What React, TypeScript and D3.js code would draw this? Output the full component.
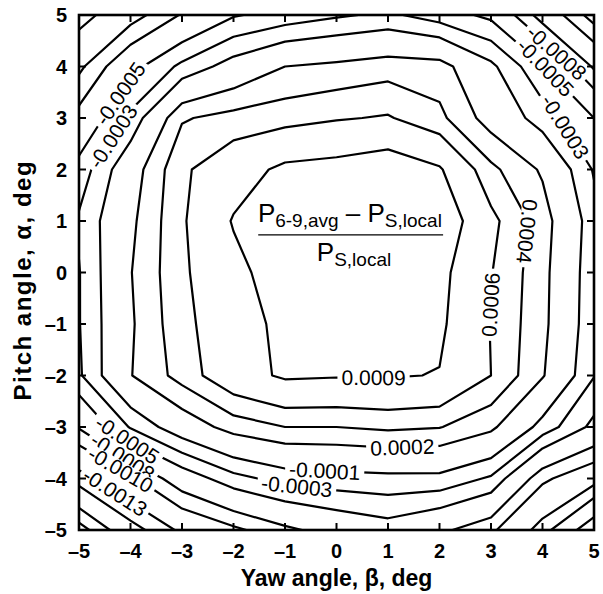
import { useEffect, useRef } from "react";
import * as d3 from "d3";

const yawTicks = [-5, -4, -3, -2, -1, 0, 1, 2, 3, 4, 5];
const pitchTicks = [-5, -4, -3, -2, -1, 0, 1, 2, 3, 4, 5];

// measurement grid: columns are yaw -5..5, rows are pitch 5..-5 (top row first)
const gridYaw = [-5, -4, -3, -2, -1, 0, 1, 2, 3, 4, 5];
const gridPitch = [5, 4, 3, 2, 1, 0, -1, -2, -3, -4, -5];
const pressureGrid = [
  [-0.0014, -0.0011, -0.00078, -0.00052, -0.00042, -0.00033, -0.00026, -0.0004, -0.00055, -0.0011, -0.0016],
  [-0.00105, -0.00058, -0.00025, 0.0, 0.0002, 0.00025, 0.00031, 0.00029, -0.00005, -0.00048, -0.00103],
  [-0.00072, -0.00025, 0.00038, 0.00047, 0.00052, 0.00058, 0.00062, 0.00045, 0.0001, -0.0002, -0.0005],
  [-0.00042, 0.00008, 0.00056, 0.00077, 0.00096, 0.001, 0.00108, 0.00093, 0.00045, 0.00017, -0.00032],
  [-0.00027, 0.00015, 0.00057, 0.00092, 0.00105, 0.0011, 0.0011, 0.0011, 0.00066, 0.0003, -0.00022],
  [-0.00031, 0.00019, 0.00056, 0.00082, 0.00105, 0.00112, 0.00112, 0.00098, 0.00061, 0.00027, -0.00024],
  [-0.00031, 0.00017, 0.00054, 0.00076, 0.00098, 0.0011, 0.0011, 0.00095, 0.00059, 0.00026, -0.00025],
  [-0.00033, 0.00019, 0.00048, 0.00078, 0.00094, 0.00092, 0.00092, 0.00089, 0.0006, 0.00022, -0.00029],
  [-0.00078, -0.00028, 0.00005, 0.00029, 0.0004, 0.0004, 0.00044, 0.00041, 0.00025, -0.00018, -0.00056],
  [-0.0014, -0.00105, -0.00065, -0.00037, -0.00022, -0.00018, -0.00016, -0.00016, -0.00033, -0.00095, -0.0012],
  [-0.0021, -0.0016, -0.00125, -0.00105, -0.00085, -0.0007, -0.0006, -0.00075, -0.00095, -0.0014, -0.002],
];

const contourLevels = [
  -0.0023, -0.002, -0.0018, -0.0015, -0.0013, -0.001, -0.0008, -0.0005, -0.0003, -0.0001,
  0.0002, 0.0004, 0.0006, 0.0009,
];

// labelled levels, with a rough spot (yaw, pitch) and text direction hint
const contourLabels = [
  { level: -0.0005, yaw: -4.21, pitch: 3.48, angle: -55 },
  { level: -0.0003, yaw: -4.23, pitch: 2.57, angle: -55 },
  { level: -0.0008, yaw: 4.24, pitch: 4.23, angle: 41 },
  { level: -0.0005, yaw: 4.05, pitch: 3.97, angle: 45 },
  { level: -0.0003, yaw: 4.44, pitch: 2.83, angle: 58 },
  { level: 0.0004, yaw: 3.79, pitch: 0.79, angle: 72 },
  { level: 0.0006, yaw: 2.91, pitch: -0.62, angle: -90 },
  { level: 0.0009, yaw: 0.72, pitch: -2.05, angle: 0 },
  { level: 0.0002, yaw: 1.28, pitch: -3.47, angle: 0 },
  { level: -0.0001, yaw: -0.23, pitch: -3.87, angle: 0 },
  { level: -0.0003, yaw: -0.78, pitch: -4.24, angle: 0 },
  { level: -0.0005, yaw: -4.06, pitch: -3.24, angle: 37 },
  { level: -0.0008, yaw: -4.17, pitch: -3.61, angle: 37 },
  { level: -0.001, yaw: -4.27, pitch: -3.96, angle: 37 },
  { level: -0.0013, yaw: -4.35, pitch: -4.34, angle: 37 },
];

const fmtLevel = (v: number) => (v < 0 ? "-" : "") + Math.abs(v).toFixed(4);
const fmtTick = (v: number) => (v < 0 ? "\u2013" + Math.abs(v) : String(v));

export default function App() {
  const ref = useRef<SVGSVGElement>(null);

  useEffect(() => {
    const width = 603, height = 594;
    const left = 79, right = 594, top = 15, bottom = 530;
    const font = "'Liberation Sans', Arial, Helvetica, sans-serif";

    const x = d3.scaleLinear().domain([-5, 5]).range([left, right]);
    const y = d3.scaleLinear().domain([-5, 5]).range([bottom, top]);

    const svg = d3.select(ref.current);
    svg.selectAll("*").remove();
    svg.attr("width", width).attr("height", height);

    svg.append("rect").attr("width", width).attr("height", height).attr("fill", "white");

    svg.append("defs").append("clipPath").attr("id", "plot-clip")
      .append("rect")
      .attr("x", left).attr("y", top)
      .attr("width", right - left).attr("height", bottom - top);

    // contours from the grid (d3 puts sample i at i + 0.5)
    const nx = gridYaw.length, ny = gridPitch.length;
    const values = pressureGrid.flat();
    const contours = d3.contours().size([nx, ny]).thresholds(contourLevels)(values);

    const toPx = (c: number, r: number): [number, number] => [
      x(gridYaw[0] + (c - 0.5)),
      y(gridPitch[0] - (r - 0.5)),
    ];
    const projection = d3.geoTransform({
      point(px: number, py: number) {
        const p = toPx(px, py);
        this.stream.point(p[0], p[1]);
      },
    });
    const path = d3.geoPath(projection);

    svg.append("g")
      .attr("clip-path", "url(#plot-clip)")
      .selectAll("path")
      .data(contours)
      .join("path")
      .attr("d", d => path(d as any))
      .attr("fill", "none")
      .attr("stroke", "black")
      .attr("stroke-width", 2.2)
      .attr("stroke-linejoin", "round");

    // labels: snap to the nearest point of the level's line
    const labelLayer = svg.append("g");
    contourLabels.forEach(lab => {
      const c = contours.find(k => Math.abs(k.value - lab.level) < 1e-9);
      if (!c) return;
      const tx = x(lab.yaw), ty = y(lab.pitch);
      let best = { d: Infinity, px: tx, py: ty, ang: lab.angle };
      c.coordinates.forEach(poly => poly.forEach(ring => {
        for (let i = 0; i < ring.length - 1; i++) {
          const a = toPx(ring[i][0], ring[i][1]);
          const b = toPx(ring[i + 1][0], ring[i + 1][1]);
          const mx = (a[0] + b[0]) / 2, my = (a[1] + b[1]) / 2;
          if (mx < left || mx > right || my < top || my > bottom) continue;
          const dx = b[0] - a[0], dy = b[1] - a[1];
          const len2 = dx * dx + dy * dy;
          if (len2 === 0) continue;
          let t = ((tx - a[0]) * dx + (ty - a[1]) * dy) / len2;
          t = Math.max(0, Math.min(1, t));
          const qx = a[0] + t * dx, qy = a[1] + t * dy;
          const d = (qx - tx) ** 2 + (qy - ty) ** 2;
          if (d < best.d) {
            let ang = (Math.atan2(dy, dx) * 180) / Math.PI;
            const diff = ((ang - lab.angle) % 360 + 540) % 360 - 180;
            if (Math.abs(diff) > 90) ang += 180;
            best = { d, px: qx, py: qy, ang };
          }
        }
      }));
      const g = labelLayer.append("g")
        .attr("transform", `translate(${best.px},${best.py}) rotate(${best.ang})`);
      const bg = g.append("rect").attr("fill", "white");
      const t = g.append("text")
        .attr("text-anchor", "middle")
        .attr("dominant-baseline", "central")
        .attr("font-family", font)
        .attr("font-size", 21)
        .attr("fill", "black")
        .text(fmtLevel(lab.level));
      const w = (t.node() as SVGTextElement).getComputedTextLength();
      bg.attr("x", -w / 2 - 4).attr("y", -8).attr("width", w + 8).attr("height", 16);
    });

    // frame and inward ticks
    const axis = svg.append("g").attr("stroke", "black").attr("stroke-width", 2);
    yawTicks.slice(1, -1).forEach(v => {
      axis.append("line").attr("x1", x(v)).attr("x2", x(v)).attr("y1", bottom).attr("y2", bottom - 7);
      axis.append("line").attr("x1", x(v)).attr("x2", x(v)).attr("y1", top).attr("y2", top + 7);
    });
    pitchTicks.slice(1, -1).forEach(v => {
      axis.append("line").attr("x1", left).attr("x2", left + 7).attr("y1", y(v)).attr("y2", y(v));
      axis.append("line").attr("x1", right).attr("x2", right - 7).attr("y1", y(v)).attr("y2", y(v));
    });
    svg.append("rect")
      .attr("x", left).attr("y", top)
      .attr("width", right - left).attr("height", bottom - top)
      .attr("fill", "none").attr("stroke", "black").attr("stroke-width", 2.6);

    // tick labels
    svg.append("g").selectAll("text").data(yawTicks).join("text")
      .attr("x", d => x(d)).attr("y", bottom + 28)
      .attr("text-anchor", "middle")
      .attr("font-family", font).attr("font-weight", "bold").attr("font-size", 20)
      .text(d => fmtTick(d));
    svg.append("g").selectAll("text").data(pitchTicks).join("text")
      .attr("x", left - 12).attr("y", d => y(d))
      .attr("text-anchor", "end").attr("dominant-baseline", "central")
      .attr("font-family", font).attr("font-weight", "bold").attr("font-size", 20)
      .text(d => fmtTick(d));

    // axis titles
    svg.append("text")
      .attr("x", (left + right) / 2).attr("y", 586)
      .attr("text-anchor", "middle")
      .attr("font-family", font).attr("font-weight", "bold").attr("font-size", 23)
      .text("Yaw angle, \u03b2, deg");
    svg.append("text")
      .attr("transform", `translate(22,${y(-0.15)}) rotate(-90)`)
      .attr("text-anchor", "middle").attr("dominant-baseline", "central")
      .attr("font-family", font).attr("font-weight", "bold").attr("font-size", 24)
      .attr("letter-spacing", 1.5)
      .text("Pitch angle, \u03b1, deg");

    // ratio annotation in the middle
    const num = svg.append("text")
      .attr("x", x(0.26)).attr("y", y(0.98))
      .attr("text-anchor", "middle")
      .attr("font-family", font).attr("font-size", 26);
    num.append("tspan").text("P");
    num.append("tspan").attr("font-size", 19).attr("dy", 5).text("6-9,avg");
    num.append("tspan").attr("dy", -5).text(" \u2013 P");
    num.append("tspan").attr("font-size", 19).attr("dy", 5).text("S,local");
    svg.append("line")
      .attr("x1", x(-1.52)).attr("x2", x(2.07))
      .attr("y1", y(0.73)).attr("y2", y(0.73))
      .attr("stroke", "black").attr("stroke-width", 1.2);
    const den = svg.append("text")
      .attr("x", x(0.34)).attr("y", y(0.22))
      .attr("text-anchor", "middle")
      .attr("font-family", font).attr("font-size", 26);
    den.append("tspan").text("P");
    den.append("tspan").attr("font-size", 19).attr("dy", 5).text("S,local");
  }, []);

  return <svg ref={ref} style={{ position: "absolute", left: 0, top: 0, display: "block" }} />;
}
